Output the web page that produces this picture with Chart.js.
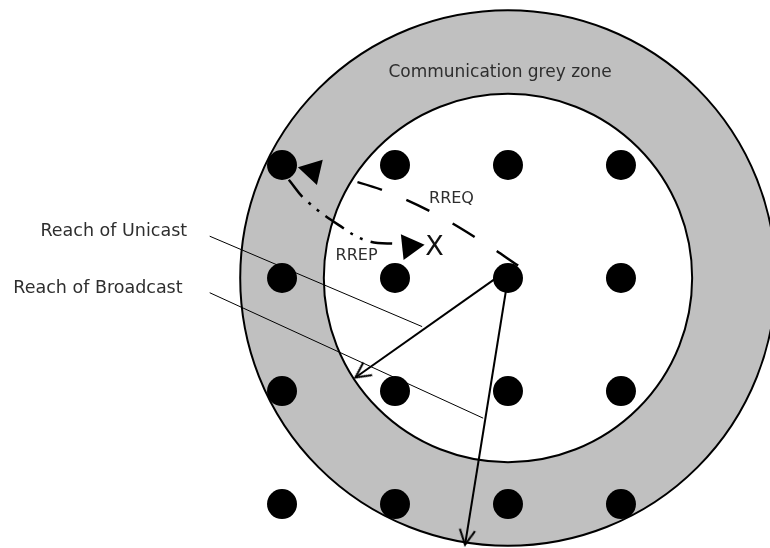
<!DOCTYPE html>
<html>
<head>
<meta charset="utf-8">
<script src="https://cdn.jsdelivr.net/npm/chart.js@4.4.1/dist/chart.umd.min.js"></script>
<style>
  html, body { margin: 0; padding: 0; background: #fff; }
  #wrap { width: 770px; height: 548px; }
</style>
</head>
<body>
<div id="wrap"><canvas id="zoneChart" width="770" height="548"></canvas></div>
<script>
// everything is in grid units: 1 unit = distance between two neighbour nodes
var nodeCols = [0, 1, 2, 3];
var nodeRows = [0, 1, 2, 3];

// reach circles around the sending node (col 2, row 1)
var zoneX = [2, 2];
var zoneY = [1, 1];
var zoneR = [2.37, 1.63];   // broadcast reach, unicast reach

var unicastX = [1.91, 0.65];
var unicastY = [0.99, 1.88];
var broadcastX = [2, 1.62];
var broadcastY = [1, 3.36];

var unicastLeadX = [-0.64, 1.24];
var unicastLeadY = [0.63, 1.43];
var broadcastLeadX = [-0.64, 1.78];
var broadcastLeadY = [1.13, 2.24];

var rreqX = [2.09, 1.79, 1.35, 0.91, 0.56];
var rreqY = [0.89, 0.69, 0.43, 0.23, 0.12];
var rrepX = [0.06, 0.21, 0.50, 0.75, 1.04];
var rrepY = [0.13, 0.31, 0.53, 0.67, 0.70];

var headX = [0.27, 1.13];   // RREQ head, RREP head
var headY = [0.05, 0.72];

var labelText = ['Communication grey zone', 'RREQ', 'RREP', 'X', 'Reach of Unicast', 'Reach of Broadcast'];
var labelX = [1.93, 1.50, 0.66, 1.35, -0.84, -0.88];
var labelY = [-0.82, 0.30, 0.80, 0.73, 0.585, 1.09];

var labelFont = ['17px "DejaVu Sans"', '16px "DejaVu Sans"', '16px "DejaVu Sans"',
                 '27px "DejaVu Sans"', '17.5px "DejaVu Sans"', '17.5px "DejaVu Sans"'];
var labelAlign = ['center', 'center', 'center', 'center', 'right', 'right'];
var labelColor = ['#2e2e2e', '#2e2e2e', '#2e2e2e', '#111', '#2e2e2e', '#2e2e2e'];

function pts(xs, ys) {
  return xs.map(function (x, i) { return { x: x, y: ys[i] }; });
}

var nodes = [];
nodeRows.forEach(function (r) {
  nodeCols.forEach(function (c) { nodes.push({ x: c, y: r }); });
});

// open arrow head, tip at the centre of the image, pointing up
function makeVee() {
  var c = document.createElement('canvas');
  c.width = 40; c.height = 40;
  var g = c.getContext('2d');
  g.strokeStyle = '#000';
  g.lineWidth = 2;
  g.beginPath();
  g.moveTo(12.3, 35);
  g.lineTo(20, 20);
  g.lineTo(27.7, 35);
  g.stroke();
  return c;
}
var vee = makeVee();

function zoneRadius(ctx) {
  var chart = ctx.chart;
  if (!chart.chartArea) return 0;
  var xs = chart.scales.x;
  return xs.getPixelForValue(zoneR[ctx.dataIndex]) - xs.getPixelForValue(0);
}

function lastOnly(ctx) {
  return ctx.dataIndex === ctx.dataset.data.length - 1 ? 12 : 0;
}

function headAngle(ctx) {
  var d = ctx.dataset.data;
  var xs = ctx.chart.scales.x, ys = ctx.chart.scales.y;
  var a = d[d.length - 2], b = d[d.length - 1];
  var dx = xs.getPixelForValue(b.x) - xs.getPixelForValue(a.x);
  var dy = ys.getPixelForValue(b.y) - ys.getPixelForValue(a.y);
  return Math.atan2(dx, -dy) * 180 / Math.PI;
}

var labelPlugin = {
  id: 'diagramLabels',
  afterDatasetsDraw: function (chart) {
    var ctx = chart.ctx, xs = chart.scales.x, ys = chart.scales.y;
    ctx.save();
    ctx.textBaseline = 'middle';
    for (var i = 0; i < labelText.length; i++) {
      ctx.font = labelFont[i];
      ctx.fillStyle = labelColor[i];
      ctx.textAlign = labelAlign[i];
      ctx.fillText(labelText[i], xs.getPixelForValue(labelX[i]), ys.getPixelForValue(labelY[i]));
    }
    ctx.restore();
  }
};

var ctx = document.getElementById('zoneChart').getContext('2d');
var zoneChart = new Chart(ctx, {
  type: 'scatter',
  data: {
    datasets: [{
      label: 'zones',
      data: pts(zoneX, zoneY),
      pointRadius: zoneRadius,
      pointBackgroundColor: ['#c0c0c0', '#ffffff'],
      pointBorderColor: '#000',
      pointBorderWidth: 2,
      clip: false,
      order: 10
    }, {
      label: 'unicast',
      data: pts(unicastX, unicastY),
      showLine: true,
      borderColor: '#000',
      borderWidth: 2,
      pointRadius: lastOnly,
      pointStyle: vee,
      pointRotation: headAngle,
      clip: false,
      order: 7
    }, {
      label: 'broadcast',
      data: pts(broadcastX, broadcastY),
      showLine: true,
      borderColor: '#000',
      borderWidth: 2,
      pointRadius: lastOnly,
      pointStyle: vee,
      pointRotation: headAngle,
      clip: false,
      order: 7
    }, {
      label: 'unicast lead',
      data: pts(unicastLeadX, unicastLeadY),
      showLine: true,
      borderColor: '#000',
      borderWidth: 1,
      pointRadius: 0,
      clip: false,
      order: 6
    }, {
      label: 'broadcast lead',
      data: pts(broadcastLeadX, broadcastLeadY),
      showLine: true,
      borderColor: '#000',
      borderWidth: 1,
      pointRadius: 0,
      clip: false,
      order: 6
    }, {
      label: 'RREQ',
      data: pts(rreqX, rreqY),
      showLine: true,
      tension: 0.4,
      borderColor: '#000',
      borderWidth: 2.5,
      borderDash: [26, 26],
      pointRadius: 0,
      clip: false,
      order: 5
    }, {
      label: 'RREP',
      data: pts(rrepX, rrepY),
      showLine: true,
      tension: 0.4,
      borderColor: '#000',
      borderWidth: 2.5,
      borderDash: [22, 8, 3, 8, 3, 8],
      pointRadius: 0,
      clip: false,
      order: 5
    }, {
      label: 'nodes',
      data: nodes,
      pointRadius: 15,
      pointBackgroundColor: '#000',
      pointBorderWidth: 0,
      clip: false,
      order: 3
    }, {
      label: 'heads',
      data: pts(headX, headY),
      pointStyle: 'triangle',
      pointRadius: 15,
      pointRotation: [283, 84],
      pointBackgroundColor: '#000',
      pointBorderWidth: 0,
      clip: false,
      order: 2
    }]
  },
  options: {
    responsive: false,
    animation: false,
    events: [],
    layout: { padding: 0, autoPadding: false },
    plugins: {
      legend: { display: false },
      tooltip: { enabled: false }
    },
    scales: {
      x: { type: 'linear', display: false, min: -2.496, max: 4.319 },
      y: { type: 'linear', display: false, reverse: true, min: -1.460, max: 3.389 }
    }
  },
  plugins: [labelPlugin]
});
</script>
</body>
</html>
